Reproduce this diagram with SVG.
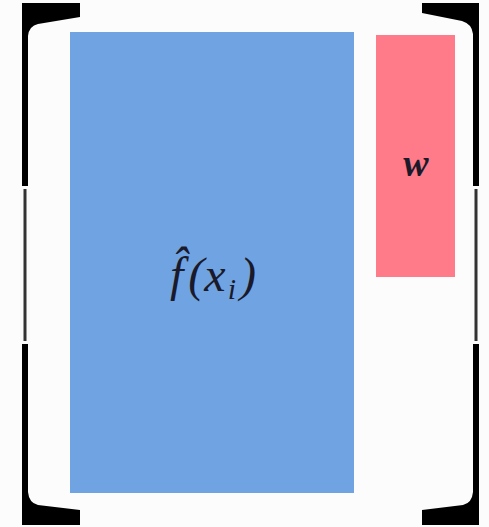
<svg xmlns="http://www.w3.org/2000/svg" width="489" height="527" viewBox="0 0 489 527">
<style>
.br{fill:#000}
.thin{stroke:#333;stroke-width:3;fill:none}
.lbl{font-family:"Liberation Serif","DejaVu Serif",serif;font-style:italic;fill:#1a1a2a}
</style>
<rect width="489" height="527" fill="#fcfcfc"/>
<g id="bracket-left">
<path class="br" d="M22 3 L80 3 L80 17 L38 24 Q29 26 28 36 L28 186 L22 186 Z"/>
<path class="br" d="M22 344 L28 344 L28 492 Q29 503 38 505 L80 510 L80 525 L22 525 Z"/>
<line class="thin" x1="25" y1="189" x2="25" y2="341"/>
</g>
<g id="bracket-right">
<path class="br" d="M479 3 L422 3 L422 13 L462 21 Q472 24 473 34 L473 186 L479 186 Z"/>
<path class="br" d="M479 344 L473 344 L473 492 Q472 503 463 505 L422 510 L422 525 L479 525 Z"/>
<line class="thin" x1="476" y1="189" x2="476" y2="341"/>
</g>
<g id="node-f">
<rect x="70" y="32" width="284" height="461" fill="#70a3e2"/>
<text class="lbl" x="170" y="291" font-size="48">f̂<tspan dx="5">(x</tspan><tspan font-size="30" dx="2" dy="8">i</tspan><tspan dx="4" dy="-8">)</tspan></text>
</g>
<g id="node-w">
<rect x="376" y="35" width="79" height="242" fill="#ff7b89"/>
<text class="lbl" x="416" y="176" font-size="38" font-weight="bold" text-anchor="middle" fill="#3a1a22">w</text>
</g>
<g id="connectors"/>
</svg>
